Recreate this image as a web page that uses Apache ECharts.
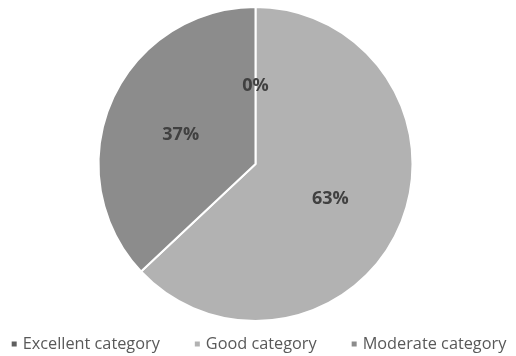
<!DOCTYPE html>
<html>
<head>
<meta charset="utf-8">
<script src="https://cdn.jsdelivr.net/npm/echarts@6/dist/echarts.min.js"></script>
<style>html,body{margin:0;padding:0;background:#fff;}#c{width:516px;height:356px;}</style>
</head>
<body>
<div id="c"></div>
<script>
const categories = ['Excellent category', 'Good category', 'Moderate category'];
const values = [0, 63, 37];
const colors = ['#5f5f5f', '#b2b2b2', '#8c8c8c'];

const total = values.reduce((a, b) => a + b, 0);
const chart = echarts.init(document.getElementById('c'), null, {renderer: 'canvas'});
chart.setOption({
  animation: false,
  color: colors,
  legend: {
    top: 331,
    left: 'center',
    padding: 5,
    itemWidth: 7,
    itemHeight: 7,
    itemGap: 33,
    icon: 'rect',
    textStyle: {fontFamily: 'Open Sans', fontSize: 16.3, color: '#595959'},
    data: categories
  },
  series: [{
    type: 'pie',
    center: [255.5, 164],
    radius: [0, 157],
    startAngle: 90,
    clockwise: true,
    minAngle: 0,
    avoidLabelOverlap: false,
    itemStyle: {borderColor: '#ffffff', borderWidth: 2},
    label: {
      show: true,
      position: 'inside',
      fontFamily: 'Open Sans',
      fontWeight: 'bold',
      fontSize: 18,
      color: '#404040',
      offset: [0, 3],
      formatter: p => Math.round(p.value / total * 100) + '%'
    },
    labelLine: {show: false},
    emphasis: {disabled: true},
    data: categories.map((c, i) => ({name: c, value: values[i]}))
  }]
});
</script>
</body>
</html>
